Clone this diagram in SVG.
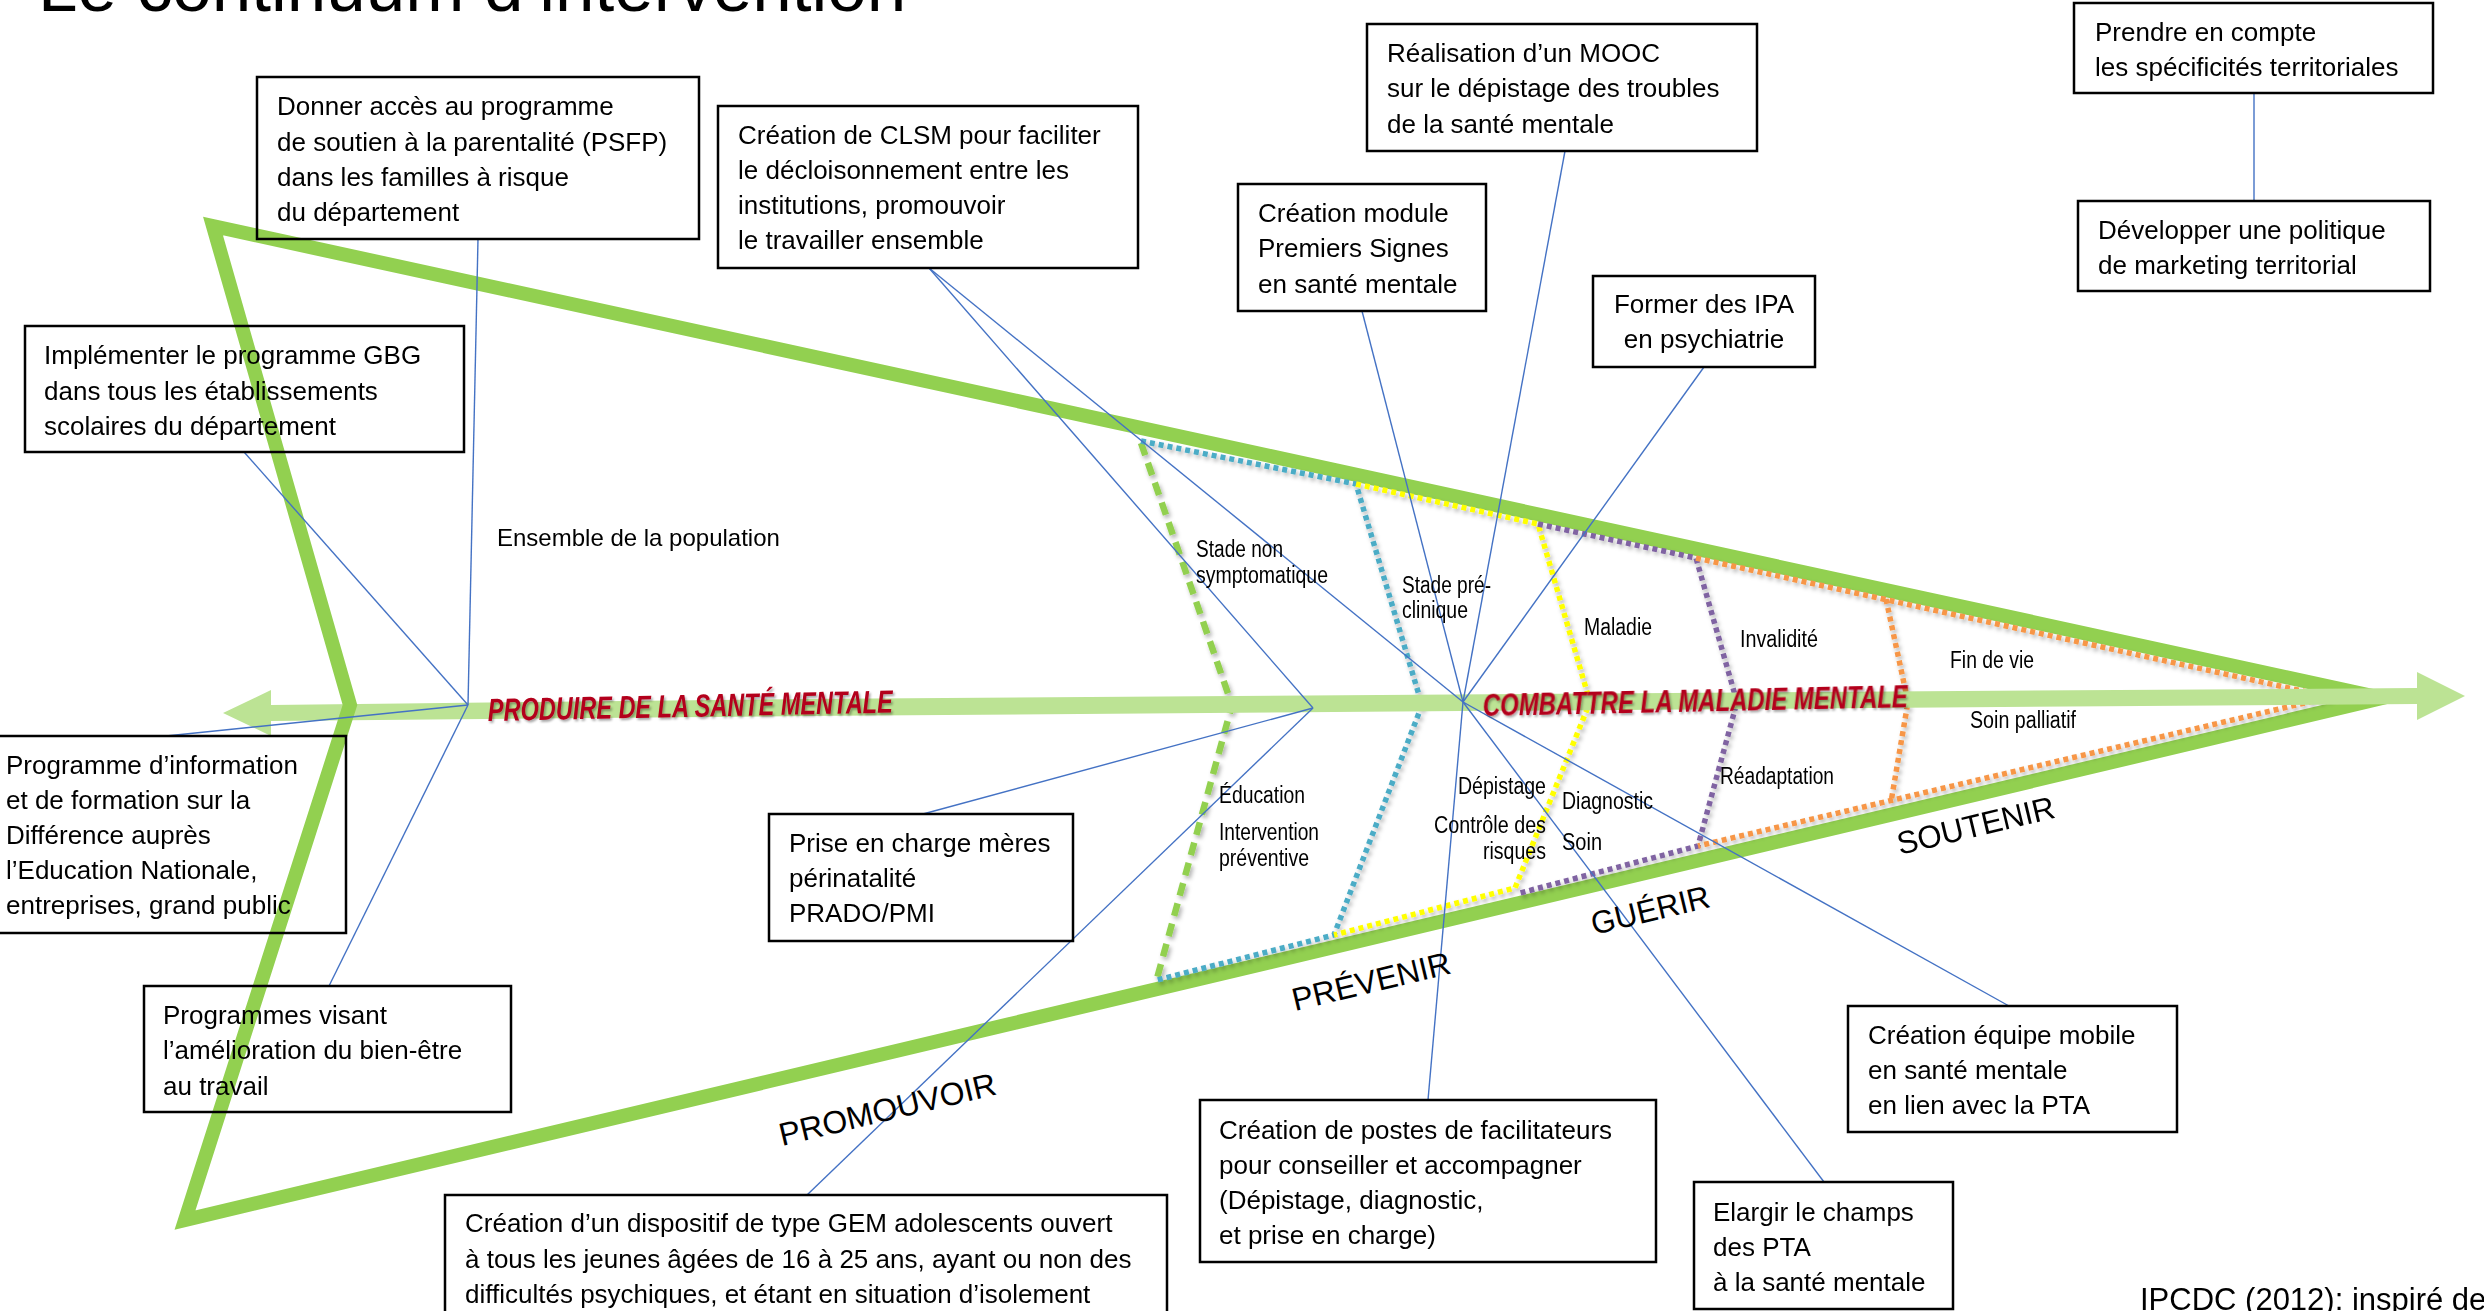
<svg xmlns="http://www.w3.org/2000/svg" width="2484" height="1311" viewBox="0 0 2484 1311">
<defs>
<style>
.box{fill:none;stroke:#000;stroke-width:2.5}
.bt{font-family:"Liberation Sans",Arial,sans-serif;font-size:26px;fill:#000}
.lb{font-family:"Liberation Sans Narrow","Liberation Sans",Arial,sans-serif;font-size:23px;fill:#000}
.rot{font-family:"Liberation Sans",Arial,sans-serif;font-size:32px;fill:#000}
.red{font-family:"Liberation Sans",Arial,sans-serif;font-size:32px;font-weight:bold;font-style:italic;fill:#b3001b}
.con{stroke:#4472c4;stroke-width:1.4;fill:none}
.dot{fill:none;stroke-width:5.5;stroke-dasharray:5 4;stroke-linejoin:miter}
.arrow{fill:#bce394}
</style>
<filter id="sh" x="-10%" y="-10%" width="120%" height="120%">
<feDropShadow dx="2" dy="3" stdDeviation="2" flood-color="#000" flood-opacity="0.3"/>
</filter>
<filter id="tsh" x="-5%" y="-30%" width="110%" height="160%">
<feDropShadow dx="1.5" dy="2" stdDeviation="1.2" flood-color="#000" flood-opacity="0.35"/>
</filter>
</defs>
<rect x="0" y="0" width="2484" height="1311" fill="#fff"/>

<!-- title -->
<text x="38" y="11" font-family="Liberation Sans, Arial, sans-serif" font-size="71" fill="#000">Le continuum d’intervention</text>

<!-- left part of the axis arrow (under the triangle) -->
<polygon class="arrow" points="223,713 271,690 271,705 810,699 810,716 271,721 271,736"/>

<!-- main triangle -->
<polygon id="triangle" points="213,226 2382,698 185,1220 350,705" fill="none" stroke="#92d050" stroke-width="14" stroke-linejoin="miter" stroke-miterlimit="10"/>

<!-- stage boundaries -->
<g id="stages" filter="url(#sh)">
<path d="M1141,443 L1232,705 L1156,982" fill="none" stroke="#92d050" stroke-width="6.5" stroke-dasharray="13 8"/>
<path class="dot" stroke="#4bacc6" d="M1141,441 L1356,484 L1422,705 L1334,935 L1157,980"/>
<path class="dot" stroke="#ffff00" d="M1356,484 L1538,524 L1590,702 L1515,888 L1334,935"/>
<path class="dot" stroke="#8064a2" d="M1538,524 L1696,558 L1737,702 L1698,846 L1520,893"/>
<path class="dot" stroke="#f79646" d="M1696,558 L2330,697 L1698,846"/>
<path class="dot" stroke="#f79646" d="M1886,599 L1908,702 L1891,802"/>
</g>

<!-- right part of the axis arrow (over the triangle) -->
<polygon class="arrow" points="800,699 2417,688 2417,672 2465,696 2417,720 2417,704 800,716"/>

<!-- connectors -->
<g id="connectors">
<line class="con" x1="478" y1="239" x2="468" y2="705"/>
<line class="con" x1="244" y1="452" x2="468" y2="705"/>
<line class="con" x1="166" y1="736" x2="468" y2="705"/>
<line class="con" x1="329" y1="986" x2="468" y2="705"/>
<line class="con" x1="929" y1="268" x2="1313" y2="708"/>
<line class="con" x1="929" y1="268" x2="1463" y2="702"/>
<line class="con" x1="1313" y1="708" x2="923" y2="814"/>
<line class="con" x1="1313" y1="708" x2="807" y2="1195"/>
<line class="con" x1="1362" y1="311" x2="1463" y2="702"/>
<line class="con" x1="1565" y1="151" x2="1463" y2="702"/>
<line class="con" x1="1704" y1="367" x2="1463" y2="702"/>
<line class="con" x1="1463" y1="702" x2="1428" y2="1100"/>
<line class="con" x1="1463" y1="702" x2="1824" y2="1182"/>
<line class="con" x1="1463" y1="702" x2="2009" y2="1006"/>
<line class="con" x1="2254" y1="93" x2="2254" y2="201"/>
</g>

<!-- axis labels -->
<g id="axis-labels" filter="url(#tsh)">
<text class="red" x="488" y="721" textLength="405" lengthAdjust="spacingAndGlyphs" transform="rotate(-1.2 488 721)">PRODUIRE DE LA SANTÉ MENTALE</text>
<text class="red" x="1483" y="716" textLength="425" lengthAdjust="spacingAndGlyphs" transform="rotate(-1.2 1483 716)">COMBATTRE LA MALADIE MENTALE</text>
</g>

<!-- zone labels -->
<g id="labels">
<text x="497" y="546" font-family="Liberation Sans, Arial, sans-serif" font-size="24">Ensemble de la population</text>
<text class="lb" x="1196" y="557" textLength="87" lengthAdjust="spacingAndGlyphs">Stade non</text>
<text class="lb" x="1196" y="583" textLength="132" lengthAdjust="spacingAndGlyphs">symptomatique</text>
<text class="lb" x="1402" y="593" textLength="89" lengthAdjust="spacingAndGlyphs">Stade pré-</text>
<text class="lb" x="1402" y="618" textLength="66" lengthAdjust="spacingAndGlyphs">clinique</text>
<text class="lb" x="1584" y="635" textLength="68" lengthAdjust="spacingAndGlyphs">Maladie</text>
<text class="lb" x="1740" y="647" textLength="78" lengthAdjust="spacingAndGlyphs">Invalidité</text>
<text class="lb" x="1950" y="668" textLength="84" lengthAdjust="spacingAndGlyphs">Fin de vie</text>
<text class="lb" x="1970" y="728" textLength="106" lengthAdjust="spacingAndGlyphs">Soin palliatif</text>
<text class="lb" x="1720" y="784" textLength="114" lengthAdjust="spacingAndGlyphs">Réadaptation</text>
<text class="lb" x="1219" y="803" textLength="86" lengthAdjust="spacingAndGlyphs">Éducation</text>
<text class="lb" x="1219" y="840" textLength="100" lengthAdjust="spacingAndGlyphs">Intervention</text>
<text class="lb" x="1219" y="866" textLength="90" lengthAdjust="spacingAndGlyphs">préventive</text>
<text class="lb" x="1458" y="794" textLength="88" lengthAdjust="spacingAndGlyphs">Dépistage</text>
<text class="lb" x="1562" y="809" textLength="91" lengthAdjust="spacingAndGlyphs">Diagnostic</text>
<text class="lb" x="1434" y="833" textLength="112" lengthAdjust="spacingAndGlyphs">Contrôle des</text>
<text class="lb" x="1483" y="859" textLength="63" lengthAdjust="spacingAndGlyphs">risques</text>
<text class="lb" x="1562" y="850" textLength="40" lengthAdjust="spacingAndGlyphs">Soin</text>
<text class="rot" x="782" y="1146" textLength="222" lengthAdjust="spacingAndGlyphs" transform="rotate(-13.5 782 1146)">PROMOUVOIR</text>
<text class="rot" x="1295" y="1011" textLength="162" lengthAdjust="spacingAndGlyphs" transform="rotate(-13.5 1295 1011)">PRÉVENIR</text>
<text class="rot" x="1594" y="935" textLength="121" lengthAdjust="spacingAndGlyphs" transform="rotate(-13.5 1594 935)">GUÉRIR</text>
<text class="rot" x="1900" y="855" textLength="161" lengthAdjust="spacingAndGlyphs" transform="rotate(-13.5 1900 855)">SOUTENIR</text>
<text x="2140" y="1310" font-family="Liberation Sans, Arial, sans-serif" font-size="31">IPCDC (2012): inspiré de</text>
</g>

<!-- nodes -->
<g id="n-donner">
<rect class="box" x="257" y="77" width="442" height="162"/>
<text class="bt" x="277" y="115">Donner accès au programme</text>
<text class="bt" x="277" y="151">de soutien à la parentalité (PSFP)</text>
<text class="bt" x="277" y="186">dans les familles à risque</text>
<text class="bt" x="277" y="221">du département</text>
</g>
<g id="n-clsm">
<rect class="box" x="718" y="106" width="420" height="162"/>
<text class="bt" x="738" y="144">Création de CLSM pour faciliter</text>
<text class="bt" x="738" y="179">le décloisonnement entre les</text>
<text class="bt" x="738" y="214">institutions, promouvoir</text>
<text class="bt" x="738" y="249">le travailler ensemble</text>
</g>
<g id="n-mooc">
<rect class="box" x="1367" y="24" width="390" height="127"/>
<text class="bt" x="1387" y="62">Réalisation d’un MOOC</text>
<text class="bt" x="1387" y="97">sur le dépistage des troubles</text>
<text class="bt" x="1387" y="133">de la santé mentale</text>
</g>
<g id="n-premiers-signes">
<rect class="box" x="1238" y="184" width="248" height="127"/>
<text class="bt" x="1258" y="222">Création module</text>
<text class="bt" x="1258" y="257">Premiers Signes</text>
<text class="bt" x="1258" y="293">en santé mentale</text>
</g>
<g id="n-ipa">
<rect class="box" x="1593" y="276" width="222" height="91"/>
<text class="bt" x="1704" y="313" text-anchor="middle">Former des IPA</text>
<text class="bt" x="1704" y="348" text-anchor="middle">en psychiatrie</text>
</g>
<g id="n-prendre">
<rect class="box" x="2074" y="3" width="359" height="90"/>
<text class="bt" x="2095" y="41">Prendre en compte</text>
<text class="bt" x="2095" y="76">les spécificités territoriales</text>
</g>
<g id="n-developper">
<rect class="box" x="2078" y="201" width="352" height="90"/>
<text class="bt" x="2098" y="239">Développer une politique</text>
<text class="bt" x="2098" y="274">de marketing territorial</text>
</g>
<g id="n-gbg">
<rect class="box" x="25" y="326" width="439" height="126"/>
<text class="bt" x="44" y="364">Implémenter le programme GBG</text>
<text class="bt" x="44" y="400">dans tous les établissements</text>
<text class="bt" x="44" y="435">scolaires du département</text>
</g>
<g id="n-information">
<rect class="box" x="-2" y="736" width="348" height="197"/>
<text class="bt" x="6" y="774">Programme d’information</text>
<text class="bt" x="6" y="809">et de formation sur la</text>
<text class="bt" x="6" y="844">Différence auprès</text>
<text class="bt" x="6" y="879">l’Education Nationale,</text>
<text class="bt" x="6" y="914">entreprises, grand public</text>
</g>
<g id="n-perinatalite">
<rect class="box" x="769" y="814" width="304" height="127"/>
<text class="bt" x="789" y="852">Prise en charge mères</text>
<text class="bt" x="789" y="887">périnatalité</text>
<text class="bt" x="789" y="922">PRADO/PMI</text>
</g>
<g id="n-travail">
<rect class="box" x="144" y="986" width="367" height="126"/>
<text class="bt" x="163" y="1024">Programmes visant</text>
<text class="bt" x="163" y="1059">l’amélioration du bien-être</text>
<text class="bt" x="163" y="1095">au travail</text>
</g>
<g id="n-gem">
<rect class="box" x="445" y="1195" width="722" height="140"/>
<text class="bt" x="465" y="1232">Création d’un dispositif de type GEM adolescents ouvert</text>
<text class="bt" x="465" y="1268">à tous les jeunes âgées de 16 à 25 ans, ayant ou non des</text>
<text class="bt" x="465" y="1303">difficultés psychiques, et étant en situation d’isolement</text>
</g>
<g id="n-facilitateurs">
<rect class="box" x="1200" y="1100" width="456" height="162"/>
<text class="bt" x="1219" y="1139">Création de postes de facilitateurs</text>
<text class="bt" x="1219" y="1174">pour conseiller et accompagner</text>
<text class="bt" x="1219" y="1209">(Dépistage, diagnostic,</text>
<text class="bt" x="1219" y="1244">et prise en charge)</text>
</g>
<g id="n-pta">
<rect class="box" x="1694" y="1182" width="259" height="127"/>
<text class="bt" x="1713" y="1221">Elargir le champs</text>
<text class="bt" x="1713" y="1256">des PTA</text>
<text class="bt" x="1713" y="1291">à la santé mentale</text>
</g>
<g id="n-equipe-mobile">
<rect class="box" x="1848" y="1006" width="329" height="126"/>
<text class="bt" x="1868" y="1044">Création équipe mobile</text>
<text class="bt" x="1868" y="1079">en santé mentale</text>
<text class="bt" x="1868" y="1114">en lien avec la PTA</text>
</g>
</svg>
